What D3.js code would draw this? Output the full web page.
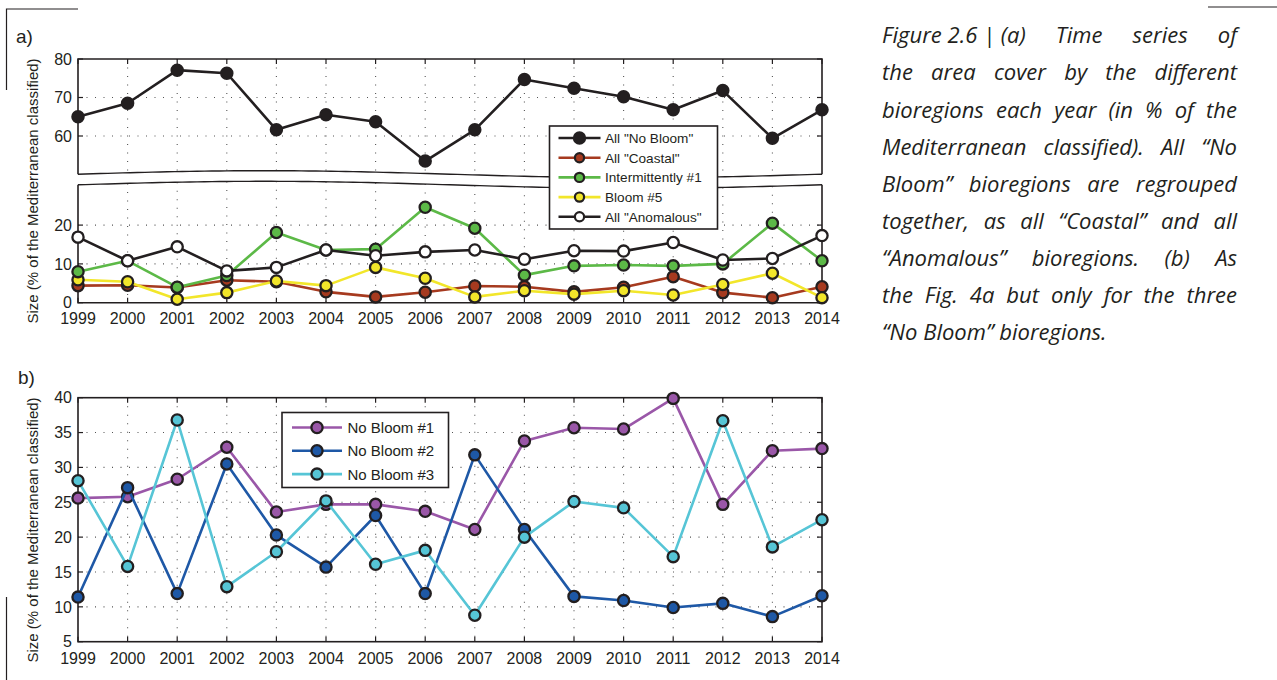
<!DOCTYPE html>
<html>
<head>
<meta charset="utf-8">
<script src="https://cdn.jsdelivr.net/npm/d3@7"></script>
<style>
  html, body { margin: 0; padding: 0; background: #fff; }
  svg { display: block; }
</style>
</head>
<body>
<svg id="chart" width="1277" height="680"></svg>
<script>
// ---------------- DATA ----------------
const years = [1999,2000,2001,2002,2003,2004,2005,2006,2007,2008,2009,2010,2011,2012,2013,2014];

// Panel (a)
const allNoBloom     = [65.0,68.5,77.1,76.3,61.6,65.5,63.7,53.5,61.6,74.7,72.4,70.2,66.8,71.8,59.4,66.8];
const allCoastal     = [4.4,4.5,3.9,5.8,5.4,2.8,1.5,2.7,4.3,4.1,2.8,4.0,6.7,2.6,1.3,4.1];
const intermittently = [8.0,10.8,4.0,7.0,18.1,13.6,13.8,24.6,19.2,7.1,9.5,9.7,9.5,10.0,20.5,10.8];
const bloom5         = [5.9,5.4,0.9,2.6,5.6,4.4,9.1,6.3,1.5,3.1,2.2,3.1,2.0,4.7,7.6,1.3];
const allAnomalous   = [16.9,10.8,14.4,8.2,9.1,13.6,12.1,13.1,13.6,11.2,13.4,13.3,15.5,11.0,11.4,17.3];

// Panel (b)
const noBloom1 = [25.6,25.8,28.3,32.9,23.6,24.7,24.7,23.7,21.1,33.8,35.7,35.5,39.9,24.7,32.4,32.7];
const noBloom2 = [11.4,27.1,11.9,30.5,20.3,15.7,23.1,11.9,31.8,21.1,11.5,10.9,9.9,10.5,8.6,11.6];
const noBloom3 = [28.1,15.8,36.8,12.9,17.9,25.2,16.1,18.1,8.8,20.0,25.1,24.2,17.2,36.7,18.6,22.5];

const seriesA = ["All \"Coastal\"", "Bloom #5", "Intermittently #1", "All \"Anomalous\"", "All \"No Bloom\""];
const legendA = ["All \"No Bloom\"", "All \"Coastal\"", "Intermittently #1", "Bloom #5", "All \"Anomalous\""];
const seriesB = ["No Bloom #1", "No Bloom #2", "No Bloom #3"];

const upperTicks = [60,70,80];
const lowerTicks = [0,10,20];
const bTicks = [5,10,15,20,25,30,35,40];

const captionLines = [
  ["Figure 2.6 | (a)", "Time", "series", "of"],
  ["the", "area", "cover", "by", "the", "different"],
  ["bioregions", "each", "year", "(in", "%", "of", "the"],
  ["Mediterranean", "classified).", "All", "\u201CNo"],
  ["Bloom\u201D", "bioregions", "are", "regrouped"],
  ["together,", "as", "all", "\u201CCoastal\u201D", "and", "all"],
  ["\u201CAnomalous\u201D", "bioregions.", "(b)", "As"],
  ["the", "Fig.", "4a", "but", "only", "for", "the", "three"],
  ["\u201CNo", "Bloom\u201D", "bioregions."]
];

// ---------------- STYLE ----------------
const INK = "#231f20";
const colors = {
  "All \"No Bloom\"":  {line: INK, fill: INK},
  "All \"Coastal\"":   {line: "#a63a1f", fill: "#a63a1f"},
  "Intermittently #1": {line: "#5cb947", fill: "#5cb947"},
  "Bloom #5":          {line: "#f2e62a", fill: "#f2e62a"},
  "All \"Anomalous\"": {line: INK, fill: "#ffffff"},
  "No Bloom #1": {line: "#9a57a8", fill: "#9a57a8"},
  "No Bloom #2": {line: "#1e58a6", fill: "#1e58a6"},
  "No Bloom #3": {line: "#56c5d6", fill: "#56c5d6"}
};
const dataA = {
  "All \"No Bloom\"": allNoBloom, "All \"Coastal\"": allCoastal,
  "Intermittently #1": intermittently, "Bloom #5": bloom5, "All \"Anomalous\"": allAnomalous
};
const dataB = {"No Bloom #1": noBloom1, "No Bloom #2": noBloom2, "No Bloom #3": noBloom3};

const svg = d3.select("#chart");
const FONT = "'Liberation Sans', Arial, Helvetica, sans-serif";
const TICKFS = 16;

// ---------------- SCALES ----------------
const x = d3.scaleLinear().domain([1999, 2014]).range([78, 822]);
const yUp = d3.scaleLinear().domain([50, 80]).range([174.5, 59]);
const yLow = d3.scaleLinear().domain([0, 30]).range([302.7, 186.3]);
const yB = d3.scaleLinear().domain([5, 40]).range([641.7, 397.7]);

// break curve offsets (wavy)
const waveUp = px => 174.2 - 3.5 * Math.sin(2 * Math.PI * (px - 78) / 744);
const waveLow = px => waveUp(px) + 10.6;
const wavePts = d3.range(0, 101).map(i => 78 + i * 7.44);

// ---------------- DECORATIVE LINES ----------------
const deco = svg.append("g").attr("stroke", INK).attr("stroke-width", 1.2).attr("fill", "none");
deco.append("path").attr("d", "M6.5,90 V9 H78");
deco.append("path").attr("d", "M1208,7 H1277");
deco.append("path").attr("d", "M6.5,597 V680");

// ---------------- PANEL A ----------------
const gA = svg.append("g");
const gridStyle = sel => sel.attr("stroke", "#555").attr("stroke-width", 1.1).attr("stroke-dasharray", "1,7.5");
years.slice(1, -1).forEach(yr => {
  gA.append("line").attr("x1", x(yr)).attr("x2", x(yr)).attr("y1", yUp(80)).attr("y2", waveUp(x(yr)))
    .call(gridStyle);
  gA.append("line").attr("x1", x(yr)).attr("x2", x(yr)).attr("y1", waveLow(x(yr))).attr("y2", yLow(0))
    .call(gridStyle);
});
[60, 70].forEach(v => gA.append("line").attr("x1", x(1999)).attr("x2", x(2014)).attr("y1", yUp(v)).attr("y2", yUp(v)).call(gridStyle));
[10, 20].forEach(v => gA.append("line").attr("x1", x(1999)).attr("x2", x(2014)).attr("y1", yLow(v)).attr("y2", yLow(v)).call(gridStyle));

// frame
const fr = gA.append("g").attr("stroke", INK).attr("stroke-width", 1.6).attr("fill", "none");
fr.append("path").attr("d", `M${x(1999)},${waveUp(x(1999))} V${yUp(80)} H${x(2014)} V${waveUp(x(2014))}`);
fr.append("path").attr("d", `M${x(1999)},${waveLow(x(1999))} V${yLow(0)} H${x(2014)} V${waveLow(x(2014))}`);
const waveLine = d3.line().x(d => d).curve(d3.curveLinear);
fr.append("path").attr("stroke-width", 1.4).attr("d", waveLine.y(d => waveUp(d))(wavePts));
fr.append("path").attr("stroke-width", 1.4).attr("d", waveLine.y(d => waveLow(d))(wavePts));

// ticks
const tk = gA.append("g").attr("stroke", INK).attr("stroke-width", 1.2);
years.forEach(yr => {
  tk.append("line").attr("x1", x(yr)).attr("x2", x(yr)).attr("y1", yLow(0)).attr("y2", yLow(0) - 5);
  tk.append("line").attr("x1", x(yr)).attr("x2", x(yr)).attr("y1", yUp(80)).attr("y2", yUp(80) + 5);
});
upperTicks.forEach(v => {
  tk.append("line").attr("x1", x(1999)).attr("x2", x(1999) + 5).attr("y1", yUp(v)).attr("y2", yUp(v));
  tk.append("line").attr("x1", x(2014)).attr("x2", x(2014) - 5).attr("y1", yUp(v)).attr("y2", yUp(v));
});
lowerTicks.forEach(v => {
  tk.append("line").attr("x1", x(1999)).attr("x2", x(1999) + 5).attr("y1", yLow(v)).attr("y2", yLow(v));
  tk.append("line").attr("x1", x(2014)).attr("x2", x(2014) - 5).attr("y1", yLow(v)).attr("y2", yLow(v));
});

// tick labels
const tl = gA.append("g").attr("font-family", FONT).attr("font-size", TICKFS).attr("fill", INK);
upperTicks.forEach(v => tl.append("text").attr("x", 72).attr("y", yUp(v)).attr("dy", "0.36em").attr("text-anchor", "end").text(v));
lowerTicks.forEach(v => tl.append("text").attr("x", 72).attr("y", yLow(v)).attr("dy", "0.36em").attr("text-anchor", "end").text(v));
years.forEach(yr => tl.append("text").attr("x", x(yr)).attr("y", 323.5).attr("text-anchor", "middle").text(yr));

// series
function drawSeries(g, vals, yScale, c) {
  const line = d3.line().x((d, i) => x(years[i])).y(d => yScale(d));
  g.append("path").attr("d", line(vals)).attr("fill", "none").attr("stroke", c.line)
    .attr("stroke-width", 2.6).attr("stroke-linejoin", "round");
  g.selectAll(null).data(vals).enter().append("circle")
    .attr("cx", (d, i) => x(years[i])).attr("cy", d => yScale(d)).attr("r", 5.6)
    .attr("fill", c.fill).attr("stroke", INK).attr("stroke-width", 2.3);
}
seriesA.forEach(name => {
  const ys = name === "All \"No Bloom\"" ? yUp : yLow;
  drawSeries(gA.append("g"), dataA[name], ys, colors[name]);
});

// legend A
const lgA = gA.append("g").attr("transform", "translate(549.5,126)");
lgA.append("rect").attr("width", 168).attr("height", 103).attr("fill", "#fff").attr("stroke", INK).attr("stroke-width", 1.6);
legendA.forEach((name, i) => {
  const yy = 12 + i * 19.7;
  const c = colors[name];
  lgA.append("line").attr("x1", 9).attr("x2", 51).attr("y1", yy).attr("y2", yy).attr("stroke", c.line).attr("stroke-width", 2.6);
  lgA.append("circle").attr("cx", 30).attr("cy", yy).attr("r", name === "All \"No Bloom\"" ? 5.6 : 4.6)
    .attr("fill", c.fill).attr("stroke", INK).attr("stroke-width", 2.2);
  lgA.append("text").attr("x", 55.5).attr("y", yy).attr("dy", "0.36em").attr("font-family", FONT)
    .attr("font-size", 13.6).attr("fill", INK).text(name);
});

// labels
svg.append("text").attr("x", 16).attr("y", 43).attr("font-family", FONT).attr("font-size", 19).attr("fill", INK).text("a)");
svg.append("text").attr("transform", "translate(38,191) rotate(-90)").attr("text-anchor", "middle")
  .attr("font-family", FONT).attr("font-size", 15).attr("fill", INK).text("Size (% of the Mediterranean classified)");

// ---------------- PANEL B ----------------
const gB = svg.append("g");
years.slice(1, -1).forEach(yr => gB.append("line").attr("x1", x(yr)).attr("x2", x(yr)).attr("y1", yB(40)).attr("y2", yB(5)).call(gridStyle));
bTicks.slice(1, -1).forEach(v => gB.append("line").attr("x1", x(1999)).attr("x2", x(2014)).attr("y1", yB(v)).attr("y2", yB(v)).call(gridStyle));
gB.append("rect").attr("x", x(1999)).attr("y", yB(40)).attr("width", x(2014) - x(1999)).attr("height", yB(5) - yB(40))
  .attr("fill", "none").attr("stroke", INK).attr("stroke-width", 1.6);
const tkB = gB.append("g").attr("stroke", INK).attr("stroke-width", 1.2);
years.forEach(yr => {
  tkB.append("line").attr("x1", x(yr)).attr("x2", x(yr)).attr("y1", yB(5)).attr("y2", yB(5) - 5);
  tkB.append("line").attr("x1", x(yr)).attr("x2", x(yr)).attr("y1", yB(40)).attr("y2", yB(40) + 5);
});
bTicks.forEach(v => {
  tkB.append("line").attr("x1", x(1999)).attr("x2", x(1999) + 5).attr("y1", yB(v)).attr("y2", yB(v));
  tkB.append("line").attr("x1", x(2014)).attr("x2", x(2014) - 5).attr("y1", yB(v)).attr("y2", yB(v));
});
const tlB = gB.append("g").attr("font-family", FONT).attr("font-size", TICKFS).attr("fill", INK);
bTicks.forEach(v => tlB.append("text").attr("x", 72).attr("y", yB(v)).attr("dy", "0.36em").attr("text-anchor", "end").text(v));
years.forEach(yr => tlB.append("text").attr("x", x(yr)).attr("y", 663.5).attr("text-anchor", "middle").text(yr));

seriesB.forEach(name => drawSeries(gB.append("g"), dataB[name], yB, colors[name]));

const lgB = gB.append("g").attr("transform", "translate(282,412.5)");
lgB.append("rect").attr("width", 166.5).attr("height", 75).attr("fill", "#fff").attr("stroke", INK).attr("stroke-width", 1.6);
seriesB.forEach((name, i) => {
  const yy = 15 + i * 23.3;
  const c = colors[name];
  lgB.append("line").attr("x1", 10).attr("x2", 60).attr("y1", yy).attr("y2", yy).attr("stroke", c.line).attr("stroke-width", 2.6);
  lgB.append("circle").attr("cx", 35).attr("cy", yy).attr("r", 5.6).attr("fill", c.fill).attr("stroke", INK).attr("stroke-width", 2.3);
  lgB.append("text").attr("x", 65.5).attr("y", yy).attr("dy", "0.36em").attr("font-family", FONT)
    .attr("font-size", 15).attr("fill", INK).text(name);
});

svg.append("text").attr("x", 18).attr("y", 384).attr("font-family", FONT).attr("font-size", 19).attr("fill", INK).text("b)");
svg.append("text").attr("transform", "translate(38,530) rotate(-90)").attr("text-anchor", "middle")
  .attr("font-family", FONT).attr("font-size", 15).attr("fill", INK).text("Size (% of the Mediterranean classified)");

// ---------------- CAPTION ----------------
const capLeft = 882, capRight = 1237, capTop = 43.3, capStep = 37.1;
const capG = svg.append("g").attr("font-family", "'Open Sans', 'Noto Sans', sans-serif").attr("font-style", "italic")
  .attr("fill", INK);
// auto-fit font size so the tightest justified line fits with normal word spacing
let capFS = 22;
const probe = capG.append("text").attr("font-size", capFS);
const natW = captionLines.slice(0, -1).map(words => {
  probe.text(words.join(" "));
  return probe.node().getComputedTextLength();
});
probe.remove();
const maxNat = d3.max(natW);
capFS = Math.min(22, capFS * (capRight - capLeft) / maxNat);
capG.attr("font-size", capFS);
captionLines.forEach((words, li) => {
  const yy = capTop + li * capStep;
  const nodes = words.map(w => capG.append("text").attr("y", yy).text(w));
  const widths = nodes.map(n => n.node().getComputedTextLength());
  const total = d3.sum(widths);
  const last = li === captionLines.length - 1;
  const gap = last ? capFS * 0.26 : (capRight - capLeft - total) / (words.length - 1);
  let cx = capLeft;
  nodes.forEach((n, i) => { n.attr("x", cx); cx += widths[i] + gap; });
});
</script>
</body>
</html>
